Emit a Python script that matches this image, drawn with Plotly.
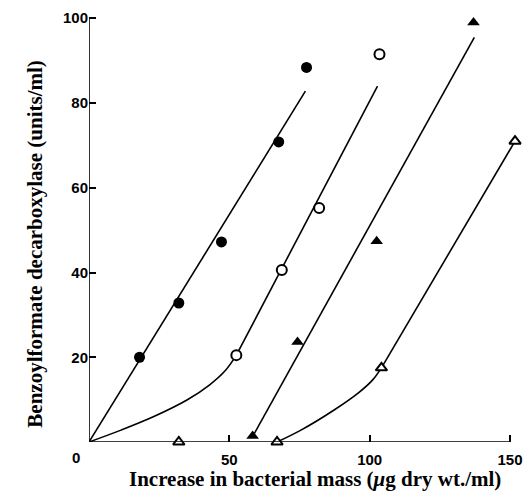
import plotly.graph_objects as go

# Measured points
fc_x = [18, 32, 47.2, 67.6, 77.5]
fc_y = [20, 32.8, 47.2, 70.8, 88.4]
oc_x = [52.5, 68.7, 82, 103.5]
oc_y = [20.5, 40.6, 55.2, 91.5]
ft_x = [58.3, 74.3, 102.5, 137]
ft_y = [1.4, 23.6, 47.4, 99]
ot_x = [32, 67, 104.2, 151.8]
ot_y = [0, 0, 17.5, 71]

# Drawn fitted curves
fc_fit_x = [0, 77.1]
fc_fit_y = [0, 82.8]
oc_curve_x = [0, 11.4, 23.1, 34.9, 43.0, 48.5, 52.5]
oc_curve_y = [0, 2.8, 6.0, 9.9, 13.5, 16.8, 20.5]
oc_line_x = [52.5, 102.8]
oc_line_y = [20.5, 84]
ft_fit_x = [58.5, 137.3]
ft_fit_y = [1.5, 95.5]
ot_curve_x = [67, 75.5, 87.2, 96.0, 101.0, 104.2]
ot_curve_y = [0, 2.8, 7.5, 11.6, 14.6, 17.5]
ot_line_x = [104.2, 151.8]
ot_line_y = [17.5, 71]

x_ticks = [50, 100, 150]
y_ticks = [20, 40, 60, 80, 100]

fig = go.Figure()
for xs, ys, shape in [(fc_fit_x, fc_fit_y, "linear"), (oc_curve_x, oc_curve_y, "spline"),
                      (oc_line_x, oc_line_y, "linear"), (ft_fit_x, ft_fit_y, "linear"),
                      (ot_curve_x, ot_curve_y, "spline"), (ot_line_x, ot_line_y, "linear")]:
    fig.add_trace(go.Scatter(x=xs, y=ys, mode="lines",
                             line=dict(color="black", width=1.6, shape=shape, smoothing=1.0),
                             showlegend=False, hoverinfo="skip"))

fig.add_trace(go.Scatter(x=fc_x, y=fc_y, mode="markers", cliponaxis=False,
                         marker=dict(symbol="circle", size=11, color="black"), showlegend=False))
fig.add_trace(go.Scatter(x=oc_x, y=oc_y, mode="markers", cliponaxis=False,
                         marker=dict(symbol="circle", size=10, color="white", line=dict(color="black", width=2)),
                         showlegend=False))
fig.add_trace(go.Scatter(x=ft_x, y=ft_y, mode="markers", cliponaxis=False,
                         marker=dict(symbol="triangle-up", size=11, color="black"), showlegend=False))
fig.add_trace(go.Scatter(x=ot_x, y=ot_y, mode="markers", cliponaxis=False,
                         marker=dict(symbol="triangle-up", size=10, color="white", line=dict(color="black", width=2)),
                         showlegend=False))

L, R, T, B = 89, 7, 14, 56
W, H = 529, 498
pw = W - L - R
ph = H - T - B

def px2paper(px, py):
    return (px - L) / pw, (H - B - py) / ph

tickfont = dict(family="Liberation Sans", size=15, color="black", weight="bold")
titlefont = dict(family="Liberation Serif", size=21, color="black", weight="bold")

zx, zy = px2paper(76, 457)
tx, ty = px2paper(318, 479)
yx, yy = px2paper(34, 244)

fig.update_layout(
    width=W, height=H,
    margin=dict(l=L, r=R, t=T, b=B),
    plot_bgcolor="white", paper_bgcolor="white",
    xaxis=dict(range=[0, 152.5], showgrid=False, zeroline=False, showline=False,
               tickvals=x_ticks, ticks="inside", ticklen=7, tickwidth=1.5, tickcolor="black",
               tickfont=tickfont, ticklabelstandoff=7),
    yaxis=dict(range=[0, 101], showgrid=False, zeroline=False, showline=False,
               tickvals=y_ticks, ticks="inside", ticklen=7, tickwidth=1.5, tickcolor="black",
               tickfont=tickfont),
    shapes=[
        dict(type="line", xref="x", yref="y", x0=0, y0=0, x1=150, y1=0, line=dict(color="black", width=1.6)),
        dict(type="line", xref="x", yref="y", x0=0, y0=0, x1=0, y1=100, line=dict(color="black", width=1.6)),
    ],
    annotations=[
        dict(text="0", x=zx, y=zy, xref="paper", yref="paper", showarrow=False,
             xanchor="center", yanchor="middle", font=tickfont),
        dict(text="Increase in bacterial mass (<i>μ</i>g dry wt./ml)", xref="paper", yref="paper",
             x=tx, y=ty, xanchor="center", yanchor="middle", showarrow=False, font=titlefont),
        dict(text="Benzoylformate decarboxylase (units/ml)", xref="paper", yref="paper",
             x=yx, y=yy, xanchor="center", yanchor="middle", textangle=-90, showarrow=False,
             font=titlefont),
    ],
)

fig.write_html("out.html")
